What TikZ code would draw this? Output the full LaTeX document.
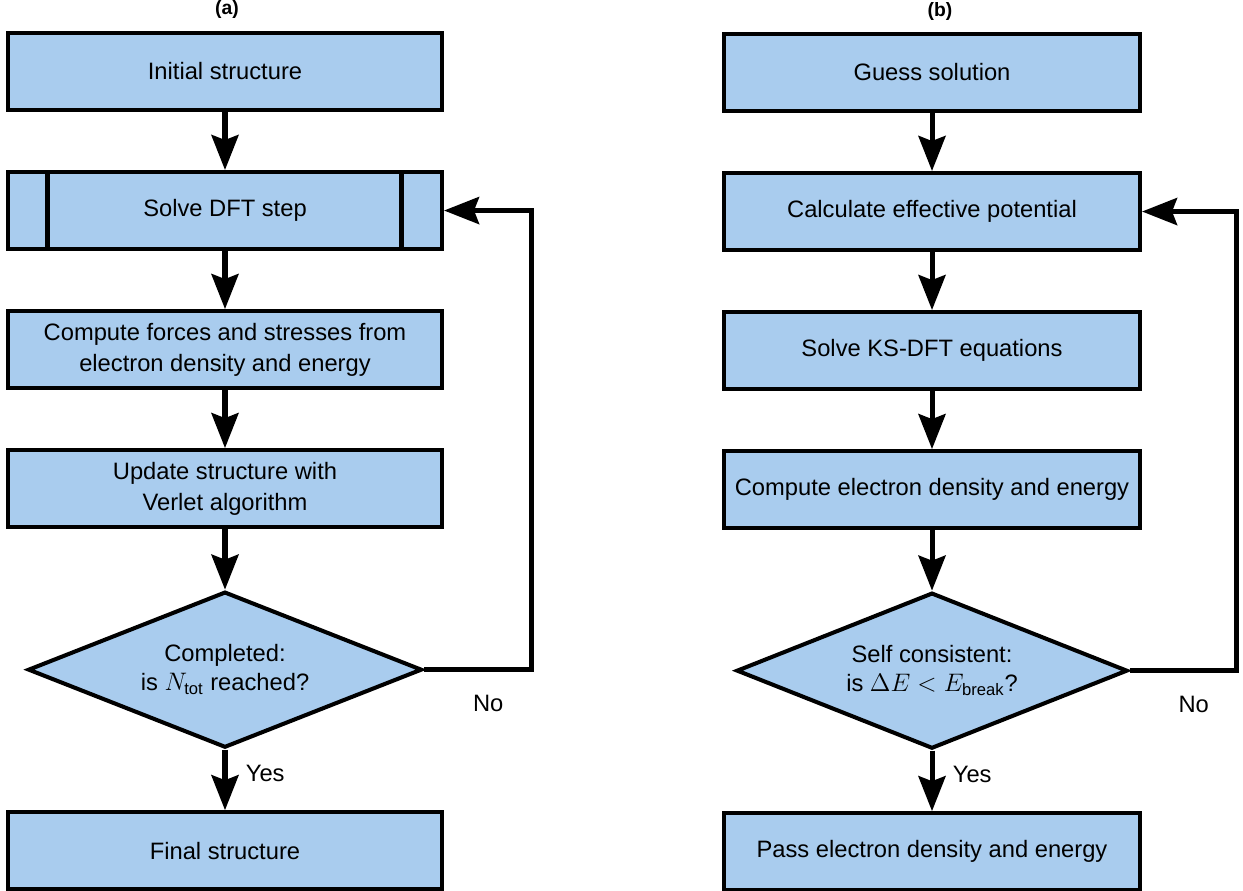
\documentclass[tikz,border=0pt]{standalone}
\usepackage{amsmath}
\usepackage{fontspec}
\setmainfont{Liberation Sans}
\usetikzlibrary{shapes.geometric, arrows.meta, positioning, calc}
\definecolor{cBox}{RGB}{169,204,238}
\tikzset{
	process/.style ={rectangle, draw=black, line width=2.3pt, fill=cBox, minimum width=8.68cm, minimum height=1.54cm, align=center, font=\fontsize{13.5}{17.6}\selectfont},
	subproc/.style ={process, path picture={
			\draw[line width=2.3pt] ([xshift=0.79cm]path picture bounding box.north west) -- ([xshift=0.79cm]path picture bounding box.south west);
			\draw[line width=2.3pt] ([xshift=-0.81cm]path picture bounding box.north east) -- ([xshift=-0.81cm]path picture bounding box.south east);}},
	decision/.style={diamond, aspect=2.5, draw=black, line width=2.3pt, fill=cBox, minimum width=7.88cm, minimum height=3.12cm, inner sep=0pt, align=center, font=\fontsize{13.5}{16.5}\selectfont},
	flow/.style    ={-{Stealth[length=7mm, width=5.4mm, inset=1mm]}, line width=2.85pt},
	panel/.style   ={font=\fontsize{11}{13}\selectfont\bfseries},
	answer/.style  ={font=\fontsize{13.5}{16}\selectfont},
}

\begin{document}
\begin{tikzpicture}[node distance=1.16cm]
	\useasboundingbox (0,0) rectangle (24.86,17.8);
	% (a) molecular dynamics loop
	\node[panel] (la) at (4.54,17.6) {(a)};
	\node[process] (init) at (4.50,16.37) {Initial structure};
	\node[subproc, below=of init] (dft) {Solve DFT step};
	\node[process, below=of dft] (forces) {Compute forces and stresses from\\ electron density and energy};
	\node[process, below=of forces] (update) {Update structure with\\ Verlet algorithm};
	\node[decision, below=1.21cm of update] (done) {Completed:\\ is $N_{\text{tot}}$ reached?};
	\node[process, below=1.21cm of done] (final) {Final structure};
	\draw[flow] (init) -- (dft);
	\draw[flow] (dft) -- (forces);
	\draw[flow] (forces) -- (update);
	\draw[flow] (update) -- (done);
	\draw[flow] (done) -- node[pos=0.4, right=0.25cm, answer] {Yes} (final);
	\draw[flow] (done.east) -- node[pos=0.6, below=0.35cm, answer] {No} ++(2.14,0) |- (dft.east);
	% (b) self-consistent field loop
	\node[panel] (lb) at (18.8,17.56) {(b)};
	\node[process, minimum width=8.32cm] (guess) at (18.64,16.35) {Guess solution};
	\node[process, minimum width=8.32cm, below=of guess] (veff) {Calculate effective potential};
	\node[process, minimum width=8.32cm, below=of veff] (ks) {Solve KS-DFT equations};
	\node[process, minimum width=8.32cm, below=of ks] (dens) {Compute electron density and energy};
	\node[decision, minimum width=7.82cm, below=1.21cm of dens] (scf) {Self consistent:\\ is $\Delta E < E_{\text{break}}$?};
	\node[process, minimum width=8.32cm, below=1.21cm of scf] (pass) {Pass electron density and energy};
	\draw[flow] (guess) -- (veff);
	\draw[flow] (veff) -- (ks);
	\draw[flow] (ks) -- (dens);
	\draw[flow] (dens) -- (scf);
	\draw[flow] (scf) -- node[pos=0.4, right=0.25cm, answer] {Yes} (pass);
	\draw[flow] (scf.east) -- node[pos=0.6, below=0.35cm, answer] {No} ++(2.14,0) |- (veff.east);
\end{tikzpicture}
\end{document}
